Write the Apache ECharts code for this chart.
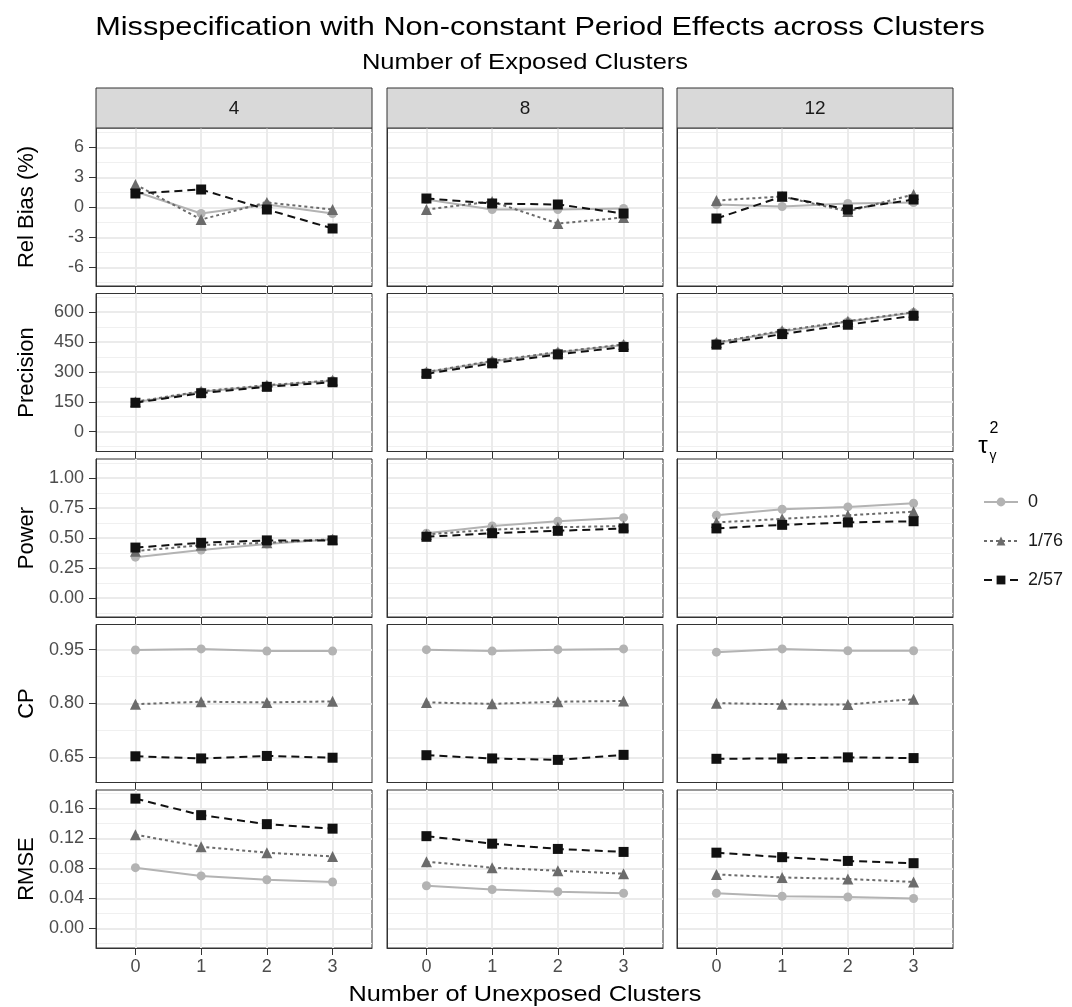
<!DOCTYPE html>
<html>
<head>
<meta charset="utf-8">
<script src="https://cdn.jsdelivr.net/npm/echarts@6/dist/echarts.min.js"></script>
<style>
html, body { margin: 0; padding: 0; background: #ffffff; }
#chart { width: 1072px; height: 1007px; }
</style>
</head>
<body>
<div id="chart"></div>
<script>
// ---------------- DATA ----------------
const xCategories = [0, 1, 2, 3];                 // Number of Unexposed Clusters
const exposedClusters = ['4', '8', '12'];          // facet columns
const metrics = ['Rel Bias (%)', 'Precision', 'Power', 'CP', 'RMSE']; // facet rows
const tauLevels = ['0', '1/76', '2/57'];           // legend levels

// each array: [exposed=4, exposed=8, exposed=12], each with values at x = 0..3
const relBias_0    = [[1.6, -0.6, 0.3, -0.6], [0.8, -0.2, -0.2, -0.1], [0.3, 0.1, 0.4, 0.5]];
const relBias_1_76 = [[2.3, -1.2, 0.5, -0.2], [-0.2, 0.6, -1.6, -1.0], [0.7, 1.1, -0.4, 1.3]];
const relBias_2_57 = [[1.4, 1.8, -0.2, -2.1], [0.9, 0.4, 0.3, -0.6], [-1.1, 1.1, -0.2, 0.8]];

const precision_0    = [[148, 200, 230, 255], [298, 352, 397, 435], [445, 503, 552, 598]];
const precision_1_76 = [[150, 203, 233, 258], [300, 355, 400, 438], [448, 507, 555, 600]];
const precision_2_57 = [[145, 193, 225, 248], [290, 343, 388, 425], [437, 490, 537, 582]];

const power_0    = [[0.34, 0.40, 0.45, 0.49], [0.54, 0.60, 0.64, 0.67], [0.69, 0.74, 0.76, 0.79]];
const power_1_76 = [[0.39, 0.44, 0.46, 0.49], [0.53, 0.57, 0.59, 0.60], [0.63, 0.66, 0.69, 0.72]];
const power_2_57 = [[0.42, 0.46, 0.48, 0.48], [0.51, 0.54, 0.56, 0.58], [0.58, 0.61, 0.63, 0.64]];

const cp_0    = [[0.949, 0.952, 0.946, 0.946], [0.950, 0.946, 0.950, 0.952], [0.943, 0.952, 0.947, 0.947]];
const cp_1_76 = [[0.798, 0.805, 0.803, 0.806], [0.803, 0.799, 0.805, 0.807], [0.801, 0.798, 0.797, 0.812]];
const cp_2_57 = [[0.653, 0.647, 0.654, 0.649], [0.656, 0.647, 0.643, 0.657], [0.646, 0.647, 0.650, 0.648]];

const rmse_0    = [[0.081, 0.070, 0.065, 0.062], [0.057, 0.052, 0.049, 0.047], [0.047, 0.043, 0.042, 0.040]];
const rmse_1_76 = [[0.125, 0.109, 0.101, 0.096], [0.089, 0.081, 0.077, 0.073], [0.072, 0.068, 0.066, 0.062]];
const rmse_2_57 = [[0.173, 0.151, 0.139, 0.133], [0.123, 0.113, 0.106, 0.102], [0.101, 0.095, 0.090, 0.087]];

// tick labels (major) and minor grid positions for each row
const yMajorTicks = [[-6, -3, 0, 3, 6], [0, 150, 300, 450, 600], [0, 0.25, 0.5, 0.75, 1], [0.65, 0.8, 0.95], [0, 0.04, 0.08, 0.12, 0.16]];
const yMinorTicks = [[-7.5, -4.5, -1.5, 1.5, 4.5, 7.5], [-75, 75, 225, 375, 525, 675], [-0.125, 0.125, 0.375, 0.625, 0.875, 1.125], [0.725, 0.875], [-0.02, 0.02, 0.06, 0.10, 0.14, 0.18]];

// ---------------- LAYOUT / STYLE ----------------
const FONT = '"Liberation Sans", Arial, Helvetica, sans-serif';
const COL_LEFT = [96, 387, 677], COL_W = 276;
const ROW_TOP = [128, 293.5, 459, 624.5, 790], ROW_H = 158;
const Y_MIN = [-7.85, -100, -0.16, 0.58, -0.026];
const Y_MAX = [7.95, 694, 1.16, 1.02, 0.1845];
const Y_DEC = [0, 0, 2, 2, 2];
const seriesByMetric = [
  [relBias_0, relBias_1_76, relBias_2_57],
  [precision_0, precision_1_76, precision_2_57],
  [power_0, power_1_76, power_2_57],
  [cp_0, cp_1_76, cp_2_57],
  [rmse_0, rmse_1_76, rmse_2_57]
];
const STYLES = [
  { color: '#b3b3b3', type: 'solid', symbol: 'circle', size: 9 },
  { color: '#6b6b6b', type: [3, 3], symbol: 'triangle', size: 11 },
  { color: '#111111', type: [8, 5], symbol: 'rect', size: 10 }
];
const TICK_STYLE = { color: '#333333', width: 1 };
const MAJOR_GRID = { color: '#ebebeb', width: 2 };
const MINOR_GRID = { color: '#f0f0f0', width: 1 };

const grids = [], xAxes = [], yAxes = [], series = [], graphics = [];

for (let r = 0; r < metrics.length; r++) {
  for (let c = 0; c < exposedClusters.length; c++) {
    const gi = r * 3 + c;
    grids.push({
      left: COL_LEFT[c], top: ROW_TOP[r], width: COL_W, height: ROW_H,
      show: true, backgroundColor: '#ffffff', borderColor: '#333333', borderWidth: 1,
      containLabel: false
    });
    xAxes.push({
      type: 'value', gridIndex: gi, min: -0.6, max: 3.6,
      axisLine: { show: true, onZero: false, lineStyle: { color: '#333333', width: 1 } },
      axisTick: { show: true, length: 7, lineStyle: TICK_STYLE, customValues: xCategories },
      axisLabel: {
        show: r === metrics.length - 1, customValues: xCategories, margin: 10,
        fontSize: 18, color: '#4d4d4d', fontFamily: FONT,
        formatter: v => String(v)
      },
      splitLine: { show: true, lineStyle: MAJOR_GRID }
    });
    yAxes.push({
      type: 'value', gridIndex: gi, min: Y_MIN[r], max: Y_MAX[r], position: 'left',
      axisLine: { show: true, onZero: false, lineStyle: { color: '#333333', width: 1 } },
      axisTick: { show: c === 0, length: 7, lineStyle: TICK_STYLE, customValues: yMajorTicks[r] },
      axisLabel: {
        show: c === 0, customValues: yMajorTicks[r], margin: 12,
        fontSize: 18, color: '#4d4d4d', fontFamily: FONT,
        formatter: v => Number(v).toFixed(Y_DEC[r])
      },
      splitLine: { show: true, lineStyle: MAJOR_GRID }
    });
    yAxes.push({
      type: 'value', gridIndex: gi, min: Y_MIN[r], max: Y_MAX[r], position: 'left',
      axisLine: { show: false, onZero: false },
      axisTick: { show: false, customValues: yMinorTicks[r] },
      axisLabel: { show: false, customValues: yMinorTicks[r] },
      splitLine: { show: true, lineStyle: MINOR_GRID }
    });
    for (let k = 0; k < tauLevels.length; k++) {
      const st = STYLES[k];
      const vals = seriesByMetric[r][k][c];
      series.push({
        type: 'line', name: tauLevels[k],
        xAxisIndex: gi, yAxisIndex: gi * 2,
        data: vals.map((v, i) => [xCategories[i], v]),
        symbol: st.symbol, symbolSize: st.size, showSymbol: true,
        lineStyle: { color: st.color, width: 2, type: st.type },
        itemStyle: { color: st.color },
        z: 3 + k, silent: true
      });
    }
  }
}

// strips (facet column labels)
for (let c = 0; c < exposedClusters.length; c++) {
  graphics.push({
    type: 'rect', shape: { x: COL_LEFT[c], y: 88, width: COL_W, height: 40 },
    style: { fill: '#d9d9d9', stroke: '#333333', lineWidth: 1 }, z: 10
  });
  graphics.push({
    type: 'text', x: COL_LEFT[c] + COL_W / 2, y: 109, z: 11,
    style: { text: exposedClusters[c], fontSize: 19, fontFamily: FONT, fill: '#1a1a1a', textAlign: 'center', textVerticalAlign: 'middle' }
  });
}
// row titles (y-axis titles)
for (let r = 0; r < metrics.length; r++) {
  graphics.push({
    type: 'text', x: 27, y: ROW_TOP[r] + ROW_H / 2, rotation: Math.PI / 2, z: 11,
    style: { text: metrics[r], fontSize: 22, fontFamily: FONT, fill: '#000000', textAlign: 'center', textVerticalAlign: 'middle' }
  });
}
// title, subtitle, x title
graphics.push({
  type: 'text', x: 540, y: 28, scaleX: 1.18, z: 11,
  style: { text: 'Misspecification with Non-constant Period Effects across Clusters', fontSize: 26, fontFamily: FONT, fill: '#000000', textAlign: 'center', textVerticalAlign: 'middle' }
});
graphics.push({
  type: 'text', x: 525, y: 63, scaleX: 1.16, z: 11,
  style: { text: 'Number of Exposed Clusters', fontSize: 22, fontFamily: FONT, fill: '#000000', textAlign: 'center', textVerticalAlign: 'middle' }
});
graphics.push({
  type: 'text', x: 525, y: 995, scaleX: 1.15, z: 11,
  style: { text: 'Number of Unexposed Clusters', fontSize: 22, fontFamily: FONT, fill: '#000000', textAlign: 'center', textVerticalAlign: 'middle' }
});
// legend title: tau_gamma^2
graphics.push({ type: 'text', x: 983, y: 446, z: 11,
  style: { text: 'τ', fontSize: 24, fontFamily: FONT, fill: '#000000', textAlign: 'center', textVerticalAlign: 'middle' } });
graphics.push({ type: 'text', x: 994, y: 429, z: 11,
  style: { text: '2', fontSize: 16, fontFamily: FONT, fill: '#000000', textAlign: 'center', textVerticalAlign: 'middle' } });
graphics.push({ type: 'text', x: 993, y: 456, z: 11,
  style: { text: 'γ', fontSize: 14, fontFamily: FONT, fill: '#000000', textAlign: 'center', textVerticalAlign: 'middle' } });

const option = {
  animation: false,
  backgroundColor: '#ffffff',
  textStyle: { fontFamily: FONT },
  grid: grids,
  xAxis: xAxes,
  yAxis: yAxes,
  series: series,
  legend: {
    data: tauLevels, orient: 'vertical', left: 978, top: 487,
    itemWidth: 34, itemHeight: 11, itemGap: 19, selectedMode: false,
    textStyle: { fontSize: 18, color: '#1a1a1a', fontFamily: FONT, lineHeight: 20, padding: [0, 0, 0, 5] }
  },
  graphic: graphics
};

const chart = echarts.init(document.getElementById('chart'), null, { renderer: 'canvas' });
chart.setOption(option);
</script>
</body>
</html>
